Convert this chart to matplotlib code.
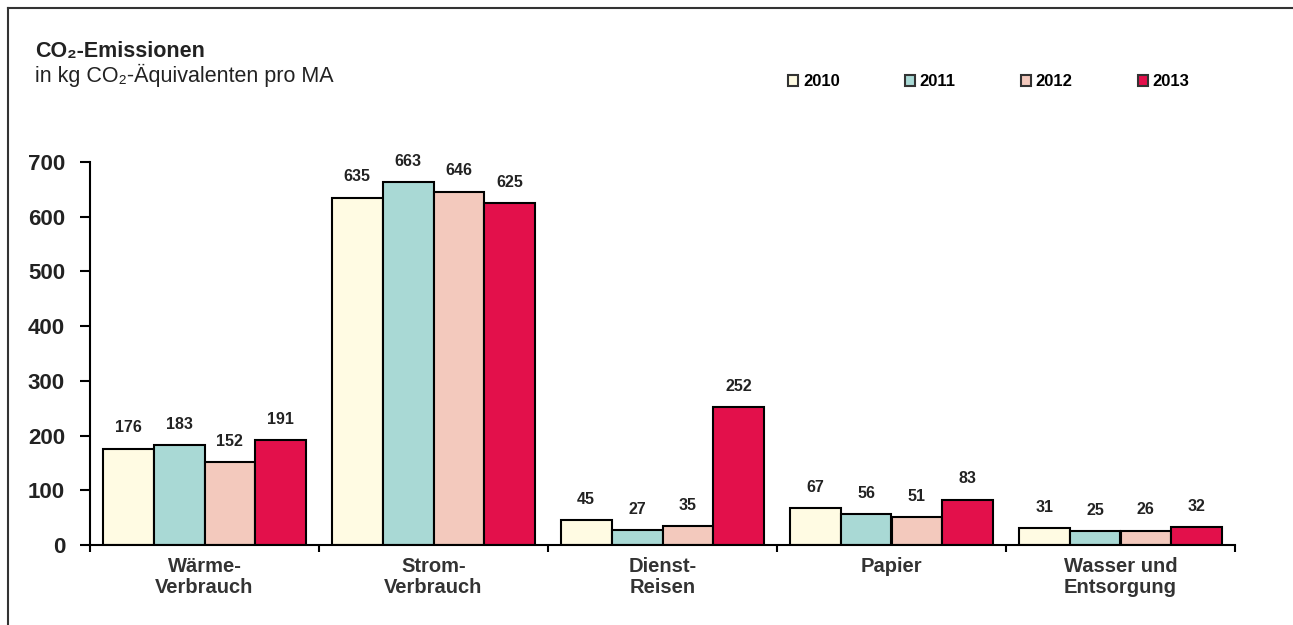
import numpy as np
import matplotlib
matplotlib.use("Agg")
import matplotlib.pyplot as plt
from matplotlib.lines import Line2D
from matplotlib.patches import Patch

plt.rcParams['font.family'] = ['Liberation Sans', 'DejaVu Sans']

# --- data ---
categories = ["Wärme-\nVerbrauch", "Strom-\nVerbrauch", "Dienst-\nReisen", "Papier", "Wasser und\nEntsorgung"]
years = ["2010", "2011", "2012", "2013"]
v2010 = [176, 635, 45, 67, 31]
v2011 = [183, 663, 27, 56, 25]
v2012 = [152, 646, 35, 51, 26]
v2013 = [191, 625, 252, 83, 32]
series = [v2010, v2011, v2012, v2013]
colors = ["#FFFBE3", "#A9D9D5", "#F3C9BD", "#E3104B"]
yticks = [0, 100, 200, 300, 400, 500, 600, 700]

fig = plt.figure(figsize=(12.93, 6.25), dpi=100)
ax = fig.add_axes([90 / 1293, 1 - 545 / 625, 1145 / 1293, 383 / 625])

x = np.arange(len(categories))
w = 0.222
for i, (vals, col) in enumerate(zip(series, colors)):
    pos = x + (i - 1.5) * w
    ax.bar(pos, vals, width=w, color=col, edgecolor="black", linewidth=1.5, zorder=2)
    for p, v in zip(pos, vals):
        ax.text(p, v + 38, str(v), ha="center", va="center", fontsize=11.5,
                fontweight="bold", color="#222222")

ax.set_xlim(-0.5, len(categories) - 0.5)
ax.set_ylim(0, 700)
ax.set_yticks(yticks)
ax.set_yticklabels([str(t) for t in yticks], fontsize=16, fontweight="bold", color="#222222")
ax.set_xticks(x)
ax.set_xticklabels(categories, fontsize=14.5, fontweight="bold", color="#333333", linespacing=1.1)
ax.set_xticks(np.arange(-0.5, len(categories)), minor=True)
ax.tick_params(axis="x", which="major", length=0, pad=9)
ax.tick_params(axis="x", which="minor", length=5, width=1.5, direction="out")
ax.tick_params(axis="y", length=7, width=1.5, direction="out", pad=11)
for s in ["top", "right"]:
    ax.spines[s].set_visible(False)
for s in ["left", "bottom"]:
    ax.spines[s].set_linewidth(1.5)

# title
fig.text(35 / 1293, 1 - 57 / 625, "CO₂-Emissionen", fontsize=15.5, fontweight="bold",
         color="#222222", va="baseline")
fig.text(35 / 1293, 1 - 82 / 625, "in kg CO₂-Äquivalenten pro MA", fontsize=15.5,
         color="#222222", va="baseline")

# legend
handles = [Patch(facecolor=c, edgecolor="#333333", linewidth=1.5) for c in colors]
leg = fig.legend(handles, years, loc="center left", bbox_to_anchor=(773 / 1293, 1 - 82 / 625),
                 ncol=4, frameon=False, handlelength=0.6, handleheight=0.6,
                 handletextpad=0.3, columnspacing=3.9,
                 prop={"weight": "bold", "size": 12})

# outer frame (top and left edge)
fig.add_artist(Line2D([8 / 1293, 8 / 1293], [0, 1 - 8 / 625], transform=fig.transFigure,
                      color="#333333", linewidth=1.5))
fig.add_artist(Line2D([8 / 1293, 1], [1 - 8 / 625, 1 - 8 / 625], transform=fig.transFigure,
                      color="#333333", linewidth=1.5))

fig.savefig("out.png", dpi=100)
